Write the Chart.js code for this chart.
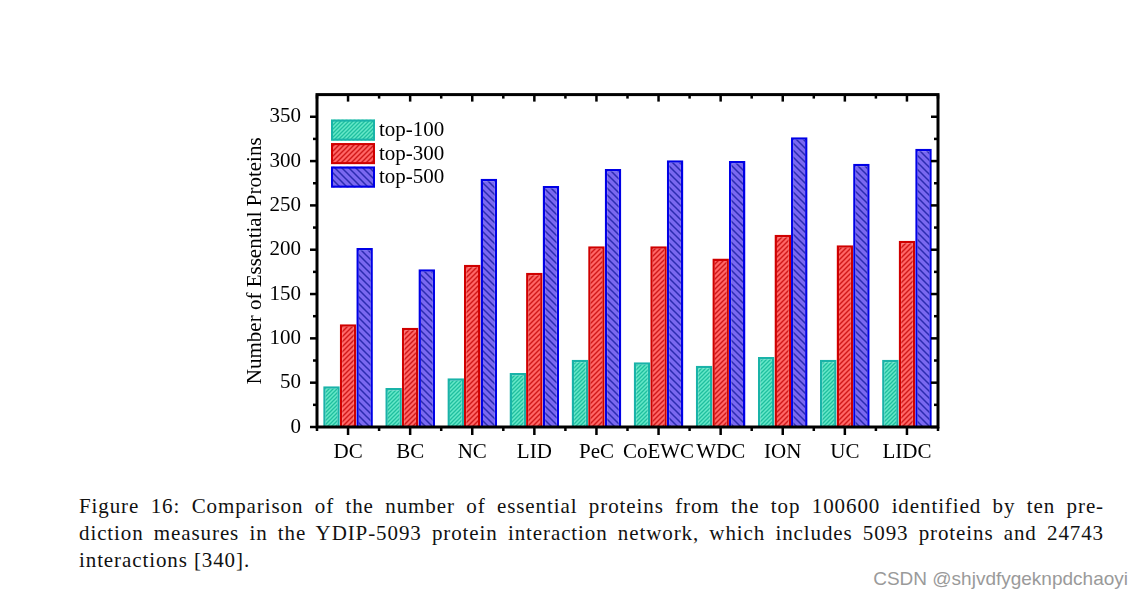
<!DOCTYPE html>
<html>
<head>
<meta charset="utf-8">
<script src="https://cdn.jsdelivr.net/npm/chart.js"></script>
<style>
  body { margin: 0; background: #fff; width: 1144px; height: 602px; overflow: hidden; position: relative; }
  #chart { position: absolute; left: 220px; top: 74px; }
  #cap { position: absolute; left: 79px; top: 493px; width: 1025px; font-family: "Liberation Serif", serif; font-size: 21px; letter-spacing: 0.9px; line-height: 27px; color: #111; }
  .ln { text-align: justify; text-align-last: justify; white-space: nowrap; }
  .ln.last { text-align-last: left; }
  #wm { position: absolute; right: 16px; top: 568px; font-family: "Liberation Sans", sans-serif; font-size: 19px; color: #9a9a9a; }
</style>
</head>
<body>
<canvas id="chart" width="740" height="400"></canvas>
<div id="cap">
  <div class="ln">Figure 16: Comparison of the number of essential proteins from the top 100600 identified by ten pre-</div>
  <div class="ln">diction measures in the YDIP-5093 protein interaction network, which includes 5093 proteins and 24743</div>
  <div class="ln last">interactions [340].</div>
</div>
<div id="wm">CSDN @shjvdfygeknpdchaoyi</div>
<script>
// datos
const categories = ['DC', 'BC', 'NC', 'LID', 'PeC', 'CoEWC', 'WDC', 'ION', 'UC', 'LIDC']
const top100 = [46, 44, 55, 61, 76, 73, 69, 79, 76, 76]
const top300 = [116, 112, 183, 174, 204, 204, 190, 217, 205, 210]
const top500 = [202, 178, 280, 272, 291, 301, 300, 327, 297, 314]
const seriesNames = ['top-100', 'top-300', 'top-500']
const yTicks = [0, 50, 100, 150, 200, 250, 300, 350]
const yMax = 375

const serif = '"Liberation Serif", "Times New Roman", serif'

// rayado diagonal como patrón de relleno
function hatch(bg, line, size, lw, dir) {
    const c = document.createElement('canvas')
    c.width = c.height = size
    const g = c.getContext('2d')
    g.fillStyle = bg
    g.fillRect(0, 0, size, size)
    g.strokeStyle = line
    g.lineWidth = lw
    g.beginPath()
    if (dir > 0) {
        g.moveTo(0, size); g.lineTo(size, 0)
        g.moveTo(-1, 1); g.lineTo(1, -1)
        g.moveTo(size - 1, size + 1); g.lineTo(size + 1, size - 1)
    } else {
        g.moveTo(0, 0); g.lineTo(size, size)
        g.moveTo(-1, size - 1); g.lineTo(1, size + 1)
        g.moveTo(size - 1, -1); g.lineTo(size + 1, 1)
    }
    g.stroke()
    return g.createPattern(c, 'repeat')
}

// marco con marcas en los cuatro lados
const frame = {
    id: 'frame',
    afterDatasetsDraw(chart) {
        const { ctx, chartArea: a, scales: { x, y } } = chart
        ctx.save()
        ctx.strokeStyle = '#000'
        ctx.lineWidth = 2.5
        const seg = (x1, y1, x2, y2) => { ctx.beginPath(); ctx.moveTo(x1, y1); ctx.lineTo(x2, y2); ctx.stroke() }
        for (let v = 0; v < yMax; v += 25) {
            const py = y.getPixelForValue(v)
            const len = v % 50 === 0 ? 7 : 4
            seg(a.left - len, py, a.left, py)
            seg(a.right, py, a.right - len, py)
        }
        for (let i = 0; i < categories.length; i++) {
            const px = x.getPixelForValue(i)
            seg(px, a.bottom, px, a.bottom + 8)
            seg(px, a.top, px, a.top + 7)
        }
        for (let i = 0; i <= categories.length; i++) {
            const px = x.getPixelForValue(i - 0.5)
            seg(px, a.bottom, px, a.bottom + 4)
            seg(px, a.top, px, a.top + 4)
        }
        ctx.lineWidth = 3
        ctx.strokeRect(a.left, a.top, a.right - a.left, a.bottom - a.top)
        ctx.restore()
    }
}

// leyenda dentro del área del gráfico
const legendBox = {
    id: 'legendBox',
    afterDraw(chart) {
        const { ctx, chartArea } = chart
        ctx.save()
        chart.data.datasets.forEach((ds, i) => {
            const x = chartArea.left + 14
            const y = chartArea.top + 25 + i * 23.5
            ctx.fillStyle = ds.backgroundColor
            ctx.fillRect(x, y, 44, 21)
            ctx.strokeStyle = ds.borderColor
            ctx.lineWidth = 2
            ctx.strokeRect(x + 1, y + 1, 42, 19)
            ctx.fillStyle = '#000'
            ctx.font = '21px ' + serif
            ctx.textBaseline = 'middle'
            ctx.fillText(ds.label, x + 48, y + 11)
        })
        ctx.restore()
    }
}

const canva = document.querySelector('#chart')
const myChart = new Chart(canva, {
    type: 'bar',
    data: {
        labels: categories,
        datasets: [
            { label: seriesNames[0], data: top100, backgroundColor: hatch('#66e8c8', '#1fbf9f', 4, 1.3, 1), borderColor: '#19b3a8' },
            { label: seriesNames[1], data: top300, backgroundColor: hatch('#ff6666', '#d01818', 5, 1.4, 1), borderColor: '#d00000' },
            { label: seriesNames[2], data: top500, backgroundColor: hatch('#7a68f0', '#2c2cb0', 7, 1.5, -1), borderColor: '#0000e6' }
        ]
    },
    options: {
        responsive: false,
        animation: false,
        layout: { padding: { top: 0, right: 22 } },
        datasets: { bar: { borderWidth: 2.5, categoryPercentage: 0.8, barPercentage: 1.0, borderSkipped: 'start' } },
        plugins: { legend: { display: false }, tooltip: { enabled: false } },
        scales: {
            x: {
                grid: { display: false },
                border: { display: false },
                ticks: { color: '#000', font: { family: serif, size: 21 }, padding: 5, maxRotation: 0, autoSkip: false },
                afterFit: s => { s.height = 47 }
            },
            y: {
                min: 0,
                max: yMax,
                grid: { display: false },
                border: { display: false },
                afterBuildTicks: s => { s.ticks = yTicks.map(v => ({ value: v })) },
                ticks: { color: '#000', font: { family: serif, size: 21 }, padding: 8 },
                title: { display: true, text: 'Number of Essential Proteins', color: '#000', font: { family: serif, size: 21 }, padding: { top: 23, bottom: 0 } },
                afterFit: s => { s.width = 97 }
            }
        }
    },
    plugins: [frame, legendBox]
})
</script>
</body>
</html>
